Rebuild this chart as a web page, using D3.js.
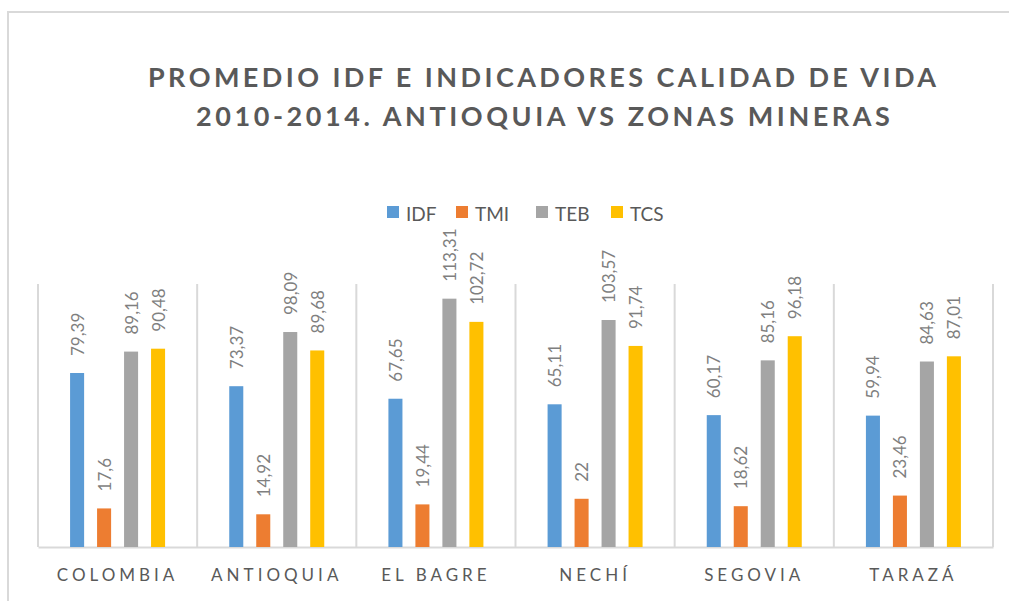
<!DOCTYPE html>
<html>
<head>
<meta charset="utf-8">
<script src="https://cdn.jsdelivr.net/npm/d3@7"></script>
<style>
  html, body { margin: 0; padding: 0; background: #fff; }
  #chart { width: 1009px; height: 601px; }
  text { font-family: Lato, "Open Sans", sans-serif; }
</style>
</head>
<body>
<div id="chart"></div>
<script>
const categories = ["COLOMBIA", "ANTIOQUIA", "EL BAGRE", "NECHÍ", "SEGOVIA", "TARAZÁ"];
const series = ["IDF", "TMI", "TEB", "TCS"];
const idf = [79.39, 73.37, 67.65, 65.11, 60.17, 59.94];
const tmi = [17.6, 14.92, 19.44, 22, 18.62, 23.46];
const teb = [89.16, 98.09, 113.31, 103.57, 85.16, 84.63];
const tcs = [90.48, 89.68, 102.72, 91.74, 96.18, 87.01];
const colors = ["#5b9bd5", "#ed7d31", "#a5a5a5", "#ffc000"];
const titleLines = ["PROMEDIO IDF E INDICADORES CALIDAD DE VIDA", "2010-2014. ANTIOQUIA VS ZONAS MINERAS"];

class BarChart {
  constructor(id) {
    this.div = id;
    this.values = [idf, tmi, teb, tcs];
  }

  draw() {
    const div = d3.select(`#${this.div}`);
    div.selectAll("*").remove();
    this.width = 1009;
    this.height = 601;
    this.margin = { left: 38, right: 16, top: 284, bottom: 54 };
    this.svg = div.append("svg").attr("width", this.width).attr("height", this.height);

    // outer chart frame
    this.svg.append("rect")
      .attr("x", 8).attr("y", 12)
      .attr("width", 1020).attr("height", 620)
      .attr("fill", "none").attr("stroke", "#d9d9d9").attr("stroke-width", 2);

    this.add_title();
    this.add_legend();
    this.add_bars();
  }

  add_title() {
    const targets = [{ x0: 148, x1: 936, y: 87 }, { x0: 196, x1: 890, y: 126 }];
    titleLines.forEach((t, i) => {
      const txt = this.svg.append("text")
        .attr("x", (targets[i].x0 + targets[i].x1) / 2)
        .attr("y", targets[i].y)
        .attr("text-anchor", "middle")
        .attr("fill", "#595959")
        .attr("font-size", 27)
        .attr("font-weight", "bold")
        .text(t);
      // spread letters so the line covers the same width as the reference
      const w0 = txt.node().getComputedTextLength();
      const ls = (targets[i].x1 - targets[i].x0 - w0) / (t.length - 1);
      txt.attr("letter-spacing", ls.toFixed(2))
        .attr("x", (targets[i].x0 + targets[i].x1) / 2 + ls / 2);
    });
  }

  add_legend() {
    const xs = [387, 456, 536, 611];
    const g = this.svg.append("g").attr("transform", "translate(0,213)");
    series.forEach((s, i) => {
      g.append("rect")
        .attr("x", xs[i]).attr("y", -7)
        .attr("width", 12).attr("height", 12)
        .attr("fill", colors[i]);
      g.append("text")
        .attr("x", xs[i] + 19).attr("y", 0)
        .attr("dominant-baseline", "central")
        .attr("font-size", 19)
        .attr("fill", "#595959")
        .text(s);
    });
  }

  add_bars() {
    const m = this.margin;
    const x0 = d3.scaleBand().domain(categories).range([m.left, this.width - m.right]);
    const bw = x0.bandwidth();
    const groupW = 95;
    const x1 = d3.scaleBand().domain(series)
      .range([(bw - groupW) / 2, (bw + groupW) / 2])
      .paddingInner(0.48);
    const y = d3.scaleLinear().domain([0, 120]).range([this.height - m.bottom, m.top]);

    const grid = this.svg.append("g");
    const bounds = categories.map(c => x0(c)).concat([x0.range()[1]]);
    grid.selectAll("line").data(bounds).join("line")
      .attr("x1", d => d).attr("x2", d => d)
      .attr("y1", y(120)).attr("y2", y(0))
      .attr("stroke", "#d9d9d9").attr("stroke-width", 2);

    const xAxis = this.svg.append("g")
      .attr("transform", `translate(0,${y(0)})`)
      .call(d3.axisBottom(x0).tickSize(0).tickPadding(22));
    xAxis.select(".domain").attr("stroke", "#d9d9d9").attr("stroke-width", 2);
    xAxis.selectAll("text")
      .attr("font-family", "Lato, 'Open Sans', sans-serif")
      .attr("font-size", 17)
      .attr("fill", "#595959")
      .attr("letter-spacing", 4)
      .attr("dx", 0);

    const rows = [];
    categories.forEach((c, ci) => {
      series.forEach((s, si) => rows.push({ c, s, si, v: this.values[si][ci] }));
    });

    this.svg.append("g").selectAll("rect").data(rows).join("rect")
      .attr("x", d => x0(d.c) + x1(d.s))
      .attr("y", d => y(d.v))
      .attr("width", x1.bandwidth())
      .attr("height", d => y(0) - y(d.v))
      .attr("fill", d => colors[d.si]);

    this.svg.append("g").selectAll("text").data(rows).join("text")
      .attr("transform", d =>
        `translate(${x0(d.c) + x1(d.s) + x1.bandwidth() / 2},${y(d.v) - 17}) rotate(-90)`)
      .attr("dominant-baseline", "central")
      .attr("font-size", 17)
      .attr("fill", "#7f7f7f")
      .text(d => String(d.v).replace(".", ","));
  }
}

new BarChart("chart").draw();
</script>
</body>
</html>
